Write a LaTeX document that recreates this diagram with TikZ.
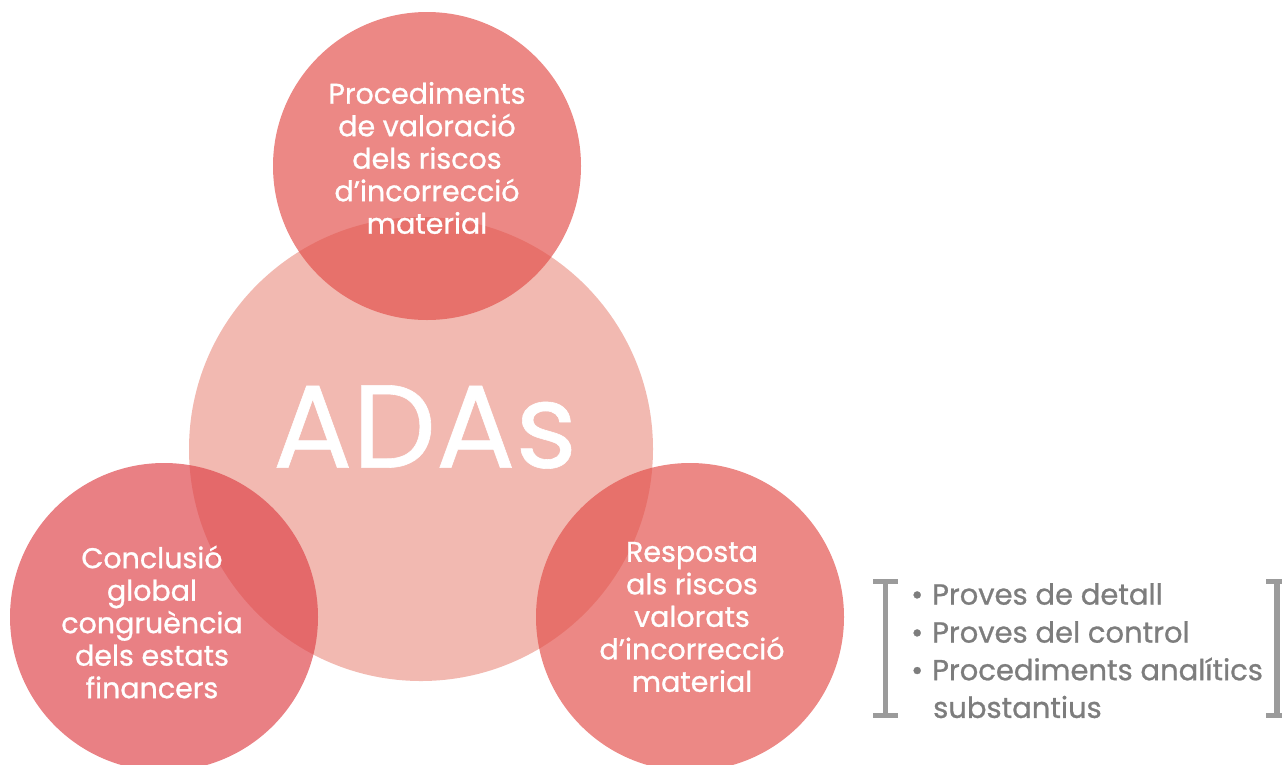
\documentclass[tikz,border=0pt]{standalone}
\usepackage{fontspec}
\setmainfont{Poppins}
\newfontfamily\medfont{Poppins}[FakeBold=0.9]
\newfontfamily\adafont{Poppins}[FakeBold=0.5]
\definecolor{bigc}{RGB}{242,185,177}
\definecolor{smallc}{RGB}{227,78,73}
\definecolor{leftc}{RGB}{222,66,72}
\definecolor{listgray}{RGB}{125,125,125}
\definecolor{brgray}{RGB}{155,155,155}
\tikzset{
  bigcircle/.style={circle, fill=bigc, minimum size=464pt, inner sep=0pt},
  smallcircle/.style={circle, fill=smallc, fill opacity=0.67, minimum size=308pt, inner sep=0pt},
  circtext/.style={text=white, align=center, font=\medfont\fontsize{28.5}{32.5}\selectfont},
  listtext/.style={text=listgray, anchor=west, font=\medfont\fontsize{29}{38}\selectfont, inner sep=0pt},
  bracketv/.style={draw=brgray, line width=5.5pt},
  brackets/.style={draw=brgray, line width=5pt}
}
\begin{document}
\begin{tikzpicture}[x=1pt, y=-1pt]
\useasboundingbox (0,0) rectangle (1282,764);
\node[bigcircle] (big) at (421,449) {};
\node[smallcircle] (top) at (427,166) {};
\node[smallcircle, fill=leftc] (left) at (164,617) {};
\node[smallcircle] (right) at (690,617) {};
\node[text=white, font=\adafont\fontsize{118}{118}\selectfont] (adas) at (425,427) {ADAs};
\node[circtext] (toptext) at (427,158) {Procediments\\de valoració\\dels riscos\\d’incorrecció\\material};
\node[circtext] (lefttext) at (152,622) {Conclusió\\global\\congruència\\dels estats\\financers};
\node[circtext] (righttext) at (692,617) {Resposta\\als riscos\\valorats\\d’incorrecció\\material};
\node[listtext] (l1) at (911,594) {•\hspace{9pt}Proves de detall};
\node[listtext] (l2) at (911,632) {•\hspace{9pt}Proves del control};
\node[listtext] (l3) at (911,669) {•\hspace{9pt}Procediments analítics};
\node[listtext] (l4) at (933,707) {substantius};
\coordinate (lbt) at (885.5,579);
\coordinate (lbb) at (885.5,718);
\draw[bracketv] (lbt) -- (lbb);
\draw[brackets] (873,581.5) -- (898,581.5);
\draw[brackets] (873,715.5) -- (898,715.5);
\coordinate (rbt) at (1277,579);
\coordinate (rbb) at (1277,718);
\draw[bracketv] (rbt) -- (rbb);
\draw[brackets] (1266,581.5) -- (1282,581.5);
\draw[brackets] (1266,715.5) -- (1282,715.5);
\end{tikzpicture}
\end{document}
